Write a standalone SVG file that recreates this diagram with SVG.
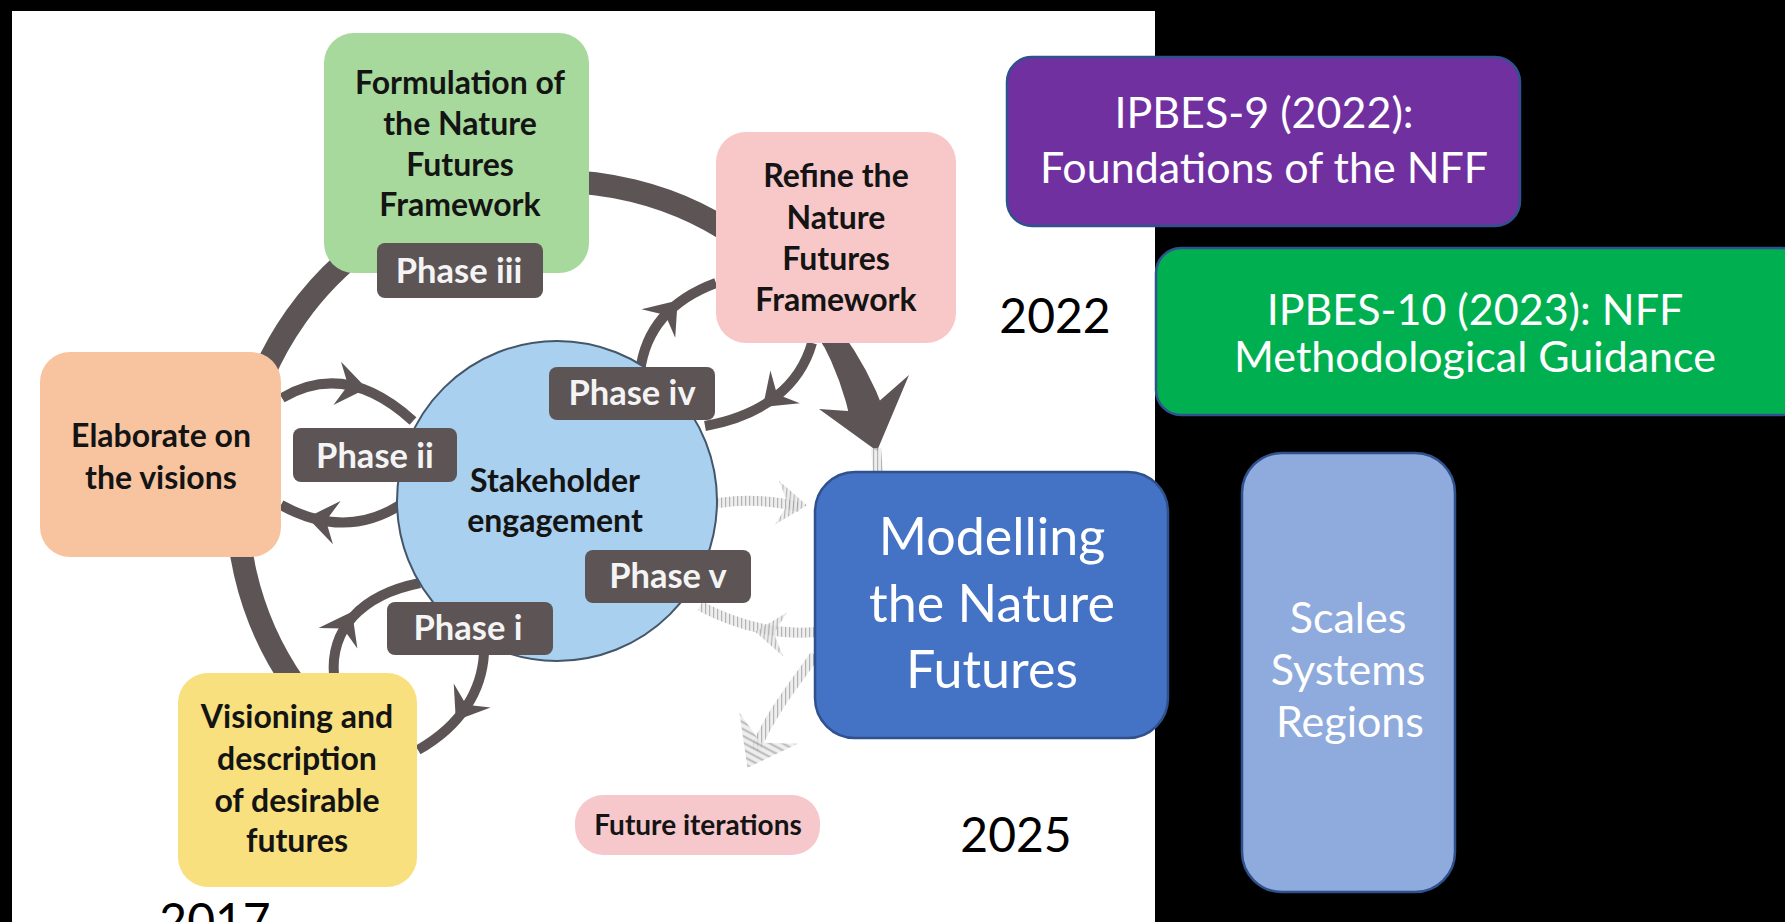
<svg xmlns="http://www.w3.org/2000/svg" width="1785" height="922" viewBox="0 0 1785 922">
<style>
.bt{font-family:Lato,'Liberation Sans',sans-serif;font-weight:700;font-size:32px;fill:#141414;text-anchor:middle}
.ph{font-family:Lato,'Liberation Sans',sans-serif;font-weight:700;font-size:34.5px;fill:#f4f4f4;text-anchor:middle}
.wt{font-family:Lato,'Liberation Sans',sans-serif;font-weight:400;fill:#ffffff;text-anchor:middle}
.yr{font-family:Lato,'Liberation Sans',sans-serif;font-weight:400;font-size:48px;fill:#000;text-anchor:middle}
.lab{fill:#5d5456}
.arc{fill:none;stroke:#5d5456;stroke-width:10}
.hd{fill:#5d5456}
.gh{fill:none;stroke:url(#hatch);stroke-width:10;opacity:0.75}
.ghd{fill:url(#hatch);opacity:0.75}
.rb{stroke:#2f528f;stroke-width:2.5}
</style>
<defs>
<path id="chev" d="M 15 0 L -15 -22 L -4 0 L -15 22 Z"/>
<pattern id="hatch" width="4" height="4" patternUnits="userSpaceOnUse"><rect width="4" height="4" fill="#e8e8e8"/><rect x="1" width="1.2" height="4" fill="#9a9a9a"/></pattern>
</defs>
<rect width="1785" height="922" fill="#000"/>
<rect x="12" y="11" width="1143" height="911" fill="#fff"/>

<g id="connectors">
  <path d="M 295 685 A 320 320 0 1 1 834 341" fill="none" stroke="#5d5456" stroke-width="23"/>
  <path d="M 840.7 330.5 A 334 334 0 0 1 885 413 L 851 422.5 A 306 306 0 0 0 821.9 341.9 Z" fill="#5d5456"/>
  <polygon points="877,451 909,375 866.5,412.3 819,409" fill="#5d5456"/>
  <!-- ghost arrows -->
  <path class="gh" d="M 876 448 L 878 474" stroke-width="14"/>
  <path class="gh" d="M 718 503 Q 760 497 800 507"/>
  <use href="#chev" class="ghd" transform="translate(792,504) rotate(5)"/>
  <path class="gh" d="M 815 632 Q 760 637 700 606"/>
  <use href="#chev" class="ghd" transform="translate(770,633) rotate(185)"/>
  <path class="gh" d="M 815 655 C 790 690 770 715 755 750"/>
  <use href="#chev" class="ghd" transform="translate(758,748) rotate(118) scale(1.5)"/>
  <!-- phase ii -->
  <path class="arc" d="M 282 398 Q 346 360 413 421"/>
  <use href="#chev" class="hd" transform="translate(352,386) rotate(10)"/>
  <path class="arc" d="M 400 505 Q 345 540 281 505"/>
  <use href="#chev" class="hd" transform="translate(322,520) rotate(190)"/>
  <!-- phase i -->
  <path class="arc" d="M 334 676 C 330 630 360 595 420 583"/>
  <use href="#chev" class="hd" transform="translate(345,625) rotate(-62)"/>
  <path class="arc" d="M 484 653 C 482 690 462 725 418 750"/>
  <use href="#chev" class="hd" transform="translate(464,708) rotate(123)"/>
  <!-- phase iv -->
  <path class="arc" d="M 640 372 C 645 330 670 300 716 283"/>
  <use href="#chev" class="hd" transform="translate(668,312) rotate(-50)"/>
  <path class="arc" d="M 812 343 C 800 385 765 415 705 426"/>
  <use href="#chev" class="hd" transform="translate(774,397) rotate(138)"/>
</g>

<g id="stakeholder">
  <circle cx="557" cy="501" r="160" fill="#a9d0ee" stroke="#44566a" stroke-width="2"/>
  <text class="bt" x="555" y="492">Stakeholder</text>
  <text class="bt" x="555" y="532">engagement</text>
</g>

<g id="formulation">
  <rect x="324" y="33" width="265" height="240" rx="30" fill="#a8d99c"/>
  <text class="bt" x="460" y="94">Formulation of</text>
  <text class="bt" x="460" y="135">the Nature</text>
  <text class="bt" x="460" y="176">Futures</text>
  <text class="bt" x="460" y="216">Framework</text>
</g>

<g id="refine">
  <rect x="716" y="132" width="240" height="211" rx="30" fill="#f8c8c9"/>
  <text class="bt" x="836" y="187">Refine the</text>
  <text class="bt" x="836" y="229">Nature</text>
  <text class="bt" x="836" y="270">Futures</text>
  <text class="bt" x="836" y="311">Framework</text>
</g>

<g id="elaborate">
  <rect x="40" y="352" width="241" height="205" rx="30" fill="#f8c4a0"/>
  <text class="bt" x="161" y="447">Elaborate on</text>
  <text class="bt" x="161" y="489">the visions</text>
</g>

<g id="visioning">
  <rect x="178" y="673" width="239" height="214" rx="30" fill="#f8e07e"/>
  <text class="bt" x="297" y="728">Visioning and</text>
  <text class="bt" x="297" y="770">description</text>
  <text class="bt" x="297" y="812">of desirable</text>
  <text class="bt" x="297" y="852">futures</text>
</g>

<g id="phase-iii">
  <rect class="lab" x="377" y="243" width="166" height="55" rx="8"/>
  <text class="ph" x="459" y="283">Phase iii</text>
</g>
<g id="phase-iv">
  <rect class="lab" x="549" y="367" width="166" height="53" rx="8"/>
  <text class="ph" x="632" y="405">Phase iv</text>
</g>
<g id="phase-ii">
  <rect class="lab" x="293" y="428" width="164" height="54" rx="8"/>
  <text class="ph" x="375" y="468">Phase ii</text>
</g>
<g id="phase-v">
  <rect class="lab" x="585" y="550" width="166" height="53" rx="8"/>
  <text class="ph" x="668" y="588">Phase v</text>
</g>
<g id="phase-i">
  <rect class="lab" x="387" y="602" width="166" height="53" rx="8"/>
  <text class="ph" x="468" y="640">Phase i</text>
</g>

<g id="future-iterations">
  <rect x="575" y="795" width="245" height="60" rx="28" fill="#f6c7cb"/>
  <text class="bt" x="698" y="835" style="font-size:28px">Future iterations</text>
</g>

<g id="modelling">
  <rect class="rb" x="815" y="472" width="353" height="266" rx="40" fill="#4472c4"/>
  <text class="wt" x="992" y="555" style="font-size:52px">Modelling</text>
  <text class="wt" x="992" y="622" style="font-size:52px">the Nature</text>
  <text class="wt" x="992" y="688" style="font-size:52px">Futures</text>
</g>

<g id="ipbes9">
  <rect class="rb" x="1007" y="57" width="513" height="169" rx="25" fill="#7030a0"/>
  <text class="wt" x="1264" y="128" style="font-size:43px">IPBES-9 (2022):</text>
  <text class="wt" x="1264" y="183" style="font-size:43px">Foundations of the NFF</text>
</g>

<g id="ipbes10">
  <rect class="rb" x="1156" y="248" width="650" height="167" rx="25" fill="#00b050"/>
  <text class="wt" x="1475" y="325" style="font-size:43px">IPBES-10 (2023): NFF</text>
  <text class="wt" x="1475" y="372" style="font-size:43px">Methodological Guidance</text>
</g>

<g id="scales">
  <rect class="rb" x="1242" y="453" width="213" height="439" rx="40" fill="#8faadc"/>
  <text class="wt" x="1348" y="633" style="font-size:43px">Scales</text>
  <text class="wt" x="1348" y="685" style="font-size:43px">Systems</text>
  <text class="wt" x="1350" y="737" style="font-size:43px">Regions</text>
</g>

<g id="years">
  <text class="yr" x="1055" y="333">2022</text>
  <text class="yr" x="1016" y="852">2025</text>
  <text class="yr" x="215" y="938">2017</text>
</g>
</svg>
